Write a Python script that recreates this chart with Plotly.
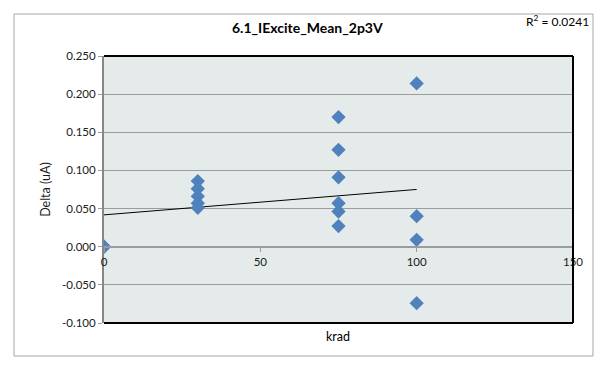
import numpy as np
import plotly.graph_objects as go

# --- data ---
krad = [0, 0,
        30, 30, 30, 30, 30,
        75, 75, 75, 75, 75, 75,
        100, 100, 100, 100]
delta = [0.000, 0.000,
         0.086, 0.076, 0.066, 0.057, 0.051,
         0.170, 0.127, 0.091, 0.057, 0.046, 0.027,
         0.214, 0.040, 0.009, -0.074]
r2_text = "R<sup>2</sup> = 0.0241"
x_ticks = [0, 50, 100, 150]
y_ticks = [-0.1, -0.05, 0, 0.05, 0.1, 0.15, 0.2, 0.25]

FONT = "Lato, 'Liberation Sans', Arial, sans-serif"
GRID = "#9c9c9c"

# the page body has an 8px margin and the graph div gets clipped at its
# right edge, so work in window pixels and keep everything inside 8..594
OFF = 8
W, H = 602 - 2 * OFF, 365 - 2 * OFF

# linear trendline (like Excel's) over the data range
slope, intercept = np.polyfit(krad, delta, 1)
trend_x = [min(krad), max(krad)]
trend_y = [intercept + slope * v for v in trend_x]

fig = go.Figure()
fig.add_trace(go.Scatter(x=trend_x, y=trend_y, mode='lines',
                         line=dict(color='black', width=1), hoverinfo='skip'))
fig.add_trace(go.Scatter(x=krad, y=delta, mode='markers',
                         marker=dict(symbol='diamond', size=11, color='#4F81BD',
                                     line=dict(width=0))))

ymin, ymax = y_ticks[0], y_ticks[-1]
zero_pos = (0 - ymin) / (ymax - ymin)

# plot area in window pixels: 104..573 x, 56..323 y
L, R, T, B = 104, 573, 56, 323
def px(x): return (x - L) / (R - L)
def py(y): return (B - y) / (B - T)

fig.update_layout(
    width=W, height=H,
    margin=dict(l=L - OFF, r=OFF + W - R, t=T - OFF, b=OFF + H - B, pad=0),
    paper_bgcolor='white', plot_bgcolor='#E5EBEB',
    showlegend=False,
    font=dict(family=FONT, size=11.5, color='#1a1a1a'),
    xaxis=dict(range=[0, 150], tickvals=x_ticks, showgrid=False, zeroline=False,
               anchor='free', position=zero_pos, showline=True, linecolor=GRID,
               linewidth=1.5, ticks='outside', ticklen=5, tickcolor=GRID,
               tickfont=dict(size=11.5)),
    yaxis=dict(range=[ymin, ymax], tickvals=y_ticks,
               ticktext=[f"{v:.3f}" for v in y_ticks],
               showgrid=True, gridcolor=GRID, gridwidth=1.2, zeroline=False,
               showline=True, linecolor='#868686', linewidth=2,
               ticks='outside', ticklen=4, tickcolor=GRID,
               title=dict(text='Delta (uA)', font=dict(size=12.5), standoff=9)),
    shapes=[
        # black plot-area frame (top, right, bottom)
        dict(type='line', xref='paper', yref='paper', x0=0, x1=1, y0=1, y1=1,
             line=dict(color='black', width=2)),
        dict(type='line', xref='paper', yref='paper', x0=1, x1=1, y0=0, y1=1,
             line=dict(color='black', width=2)),
        dict(type='line', xref='paper', yref='paper', x0=0, x1=1, y0=0, y1=0,
             line=dict(color='black', width=2)),
        # outer chart border
        dict(type='rect', xref='paper', yref='paper', x0=px(14), x1=px(OFF + W - 1),
             y0=py(OFF + H - 1), y1=py(14), line=dict(color='#a6a6a6', width=1),
             layer='below'),
    ],
    annotations=[
        dict(text='<b>6.1_IExcite_Mean_2p3V</b>', xref='paper', yref='paper',
             x=px(307), y=py(28), yanchor='middle', showarrow=False,
             font=dict(size=14, color='black')),
        dict(text=r2_text, xref='paper', yref='paper', x=px(OFF + W - 3), y=py(21),
             xanchor='right', yanchor='middle', showarrow=False,
             font=dict(size=12, color='black')),
        dict(text='krad', xref='paper', yref='paper', x=px(338), y=py(336),
             yanchor='middle', showarrow=False, font=dict(size=12.5, color='black')),
    ],
)

fig.write_html("out.html")
